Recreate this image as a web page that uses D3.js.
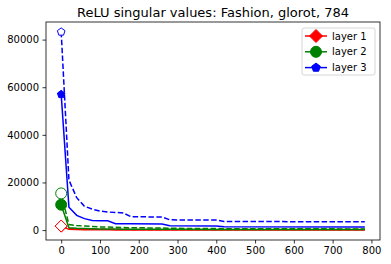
<!DOCTYPE html>
<html>
<head>
<meta charset="utf-8">
<script src="https://cdn.jsdelivr.net/npm/d3@7"></script>
<style>
  body { margin: 0; background: #fff; }
  text { font-family: "DejaVu Sans", sans-serif; }
</style>
</head>
<body>
<div id="chart"></div>
<script>
// singular value index positions (breakpoints)
const idx = [0, 20, 40, 60, 80, 100, 120, 140, 160, 180, 260, 280, 400, 420, 783];

const layerNames = ["layer 1", "layer 2", "layer 3"];
const layerColors = ["red", "green", "blue"];
const layerMarkers = ["diamond", "circle", "pentagon"];

// solid lines and dashed lines, one pair per layer
const layer1Solid  = [1650, 300, 200, 150, 120, 110, 100, 90, 90, 80, 70, 60, 50, 40, 30];
const layer1Dashed = [1700, 700, 550, 450, 400, 380, 360, 340, 320, 300, 280, 260, 240, 220, 200];
const layer2Solid  = [10650, 1000, 750, 650, 550, 500, 450, 420, 400, 380, 350, 330, 300, 280, 250];
const layer2Dashed = [15400, 2300, 1900, 1700, 1500, 1350, 1250, 1150, 1100, 1000, 850, 750, 650, 550, 500];
const layer3Solid  = [57000, 9600, 6200, 4800, 4000, 3950, 3900, 2700, 2650, 2650, 2600, 1800, 1700, 1400, 1300];
const layer3Dashed = [83230, 21000, 13600, 10000, 8800, 8000, 7600, 7400, 7200, 5600, 5500, 4300, 4200, 3600, 3500];

const solidSeries = [layer1Solid, layer2Solid, layer3Solid];
const dashedSeries = [layer1Dashed, layer2Dashed, layer3Dashed];

const xTicks = [0, 100, 200, 300, 400, 500, 600, 700, 800];
const yTicks = [0, 20000, 40000, 60000, 80000];

const width = 391, height = 264;
const margin = { top: 22, right: 11, bottom: 24, left: 46 };

const svg = d3.select("#chart").append("svg")
    .attr("width", width)
    .attr("height", height);

// matplotlib style 5% padding
const xMin = 0, xMax = 783;
const yMax = d3.max(layer3Dashed);
const x = d3.scaleLinear()
    .domain([xMin - 0.05 * (xMax - xMin), xMax + 0.05 * (xMax - xMin)])
    .range([margin.left, width - margin.right]);
const y = d3.scaleLinear()
    .domain([-0.05 * yMax, yMax * 1.05])
    .range([height - margin.bottom, margin.top]);

function markerPath(kind, size) {
    const r = size / 2;
    if (kind === "diamond") {
        return `M0,${-r}L${r},0L0,${r}L${-r},0Z`;
    }
    if (kind === "circle") {
        return d3.symbol(d3.symbolCircle, Math.PI * r * r)();
    }
    // pentagon
    const pts = d3.range(5).map(i => {
        const a = -Math.PI / 2 + i * 2 * Math.PI / 5;
        return [r * Math.cos(a), r * Math.sin(a)];
    });
    return "M" + pts.map(p => p.join(",")).join("L") + "Z";
}

const markerSize = [12, 11, 8];

const line = d3.line()
    .x((d, i) => x(idx[i]))
    .y(d => y(d));

const plot = svg.append("g");

layerNames.forEach((name, k) => {
    // solid line, filled marker on the first point
    plot.append("path")
        .attr("d", line(solidSeries[k]))
        .attr("fill", "none")
        .attr("stroke", layerColors[k])
        .attr("stroke-width", 1.5);
    plot.append("path")
        .attr("d", markerPath(layerMarkers[k], markerSize[k]))
        .attr("transform", `translate(${x(idx[0])},${y(solidSeries[k][0])})`)
        .attr("fill", layerColors[k])
        .attr("stroke", layerColors[k])
        .attr("stroke-width", 1);

    // dashed line, hollow marker
    plot.append("path")
        .attr("d", line(dashedSeries[k]))
        .attr("fill", "none")
        .attr("stroke", layerColors[k])
        .attr("stroke-width", 1.5)
        .attr("stroke-dasharray", "5.5,2.4");
    plot.append("path")
        .attr("d", markerPath(layerMarkers[k], markerSize[k]))
        .attr("transform", `translate(${x(idx[0])},${y(dashedSeries[k][0])})`)
        .attr("fill", "white")
        .attr("stroke", layerColors[k])
        .attr("stroke-width", 1);
});

// axes
const xAxis = svg.append("g")
    .attr("transform", `translate(0,${height - margin.bottom})`)
    .call(d3.axisBottom(x).tickValues(xTicks).tickSize(3.5).tickPadding(3.5).tickFormat(d3.format("d")));
const yAxis = svg.append("g")
    .attr("transform", `translate(${margin.left},0)`)
    .call(d3.axisLeft(y).tickValues(yTicks).tickSize(3.5).tickPadding(3.5).tickFormat(d3.format("d")));
[xAxis, yAxis].forEach(a => {
    a.select(".domain").remove();
    a.selectAll("text").attr("font-size", 10).attr("fill", "#000")
        .style("font-family", "DejaVu Sans, sans-serif");
    a.selectAll("line").attr("stroke", "#000").attr("stroke-width", 0.8);
});

// frame
svg.append("rect")
    .attr("x", margin.left)
    .attr("y", margin.top)
    .attr("width", width - margin.left - margin.right)
    .attr("height", height - margin.top - margin.bottom)
    .attr("fill", "none")
    .attr("stroke", "#000")
    .attr("stroke-width", 0.8);

// title
svg.append("text")
    .attr("x", (margin.left + width - margin.right) / 2)
    .attr("y", 17)
    .attr("text-anchor", "middle")
    .attr("font-size", 13)
    .text("ReLU singular values: Fashion, glorot, 784");

// legend
const legend = svg.append("g").attr("transform", "translate(302,28)");
legend.append("rect")
    .attr("width", 73).attr("height", 47)
    .attr("rx", 2)
    .attr("fill", "white")
    .attr("fill-opacity", 0.8)
    .attr("stroke", "#ccc")
    .attr("stroke-width", 0.8);
layerNames.forEach((name, k) => {
    const ly = 8 + k * 15.8;
    legend.append("line")
        .attr("x1", 3).attr("x2", 25)
        .attr("y1", ly).attr("y2", ly)
        .attr("stroke", layerColors[k])
        .attr("stroke-width", 1.5);
    legend.append("path")
        .attr("d", markerPath(layerMarkers[k], [13, 11, 9][k]))
        .attr("transform", `translate(14,${ly})`)
        .attr("fill", layerColors[k])
        .attr("stroke", layerColors[k]);
    legend.append("text")
        .attr("x", 30)
        .attr("y", ly + 3.5)
        .attr("font-size", 10)
        .text(name);
});
</script>
</body>
</html>
